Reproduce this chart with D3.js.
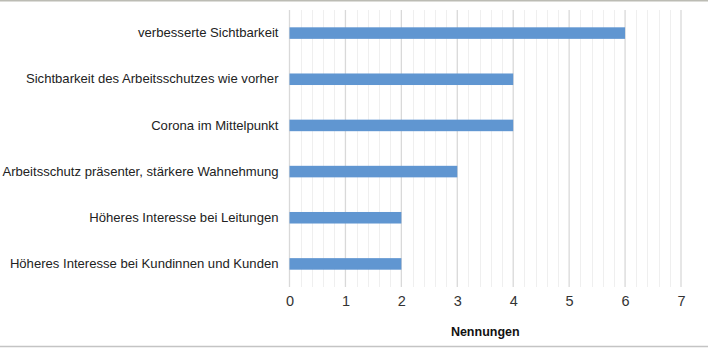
<!DOCTYPE html>
<html><head><meta charset="utf-8">
<script src="https://cdn.jsdelivr.net/npm/d3@7"></script>
<style>body{margin:0;background:#fff}svg{display:block}</style>
</head><body>
<svg id="c" width="708" height="348"></svg>
<script>
const categories = [
  "verbesserte Sichtbarkeit",
  "Sichtbarkeit des Arbeitsschutzes wie vorher",
  "Corona im Mittelpunkt",
  "Arbeitsschutz präsenter, stärkere Wahnehmung",
  "Höheres Interesse bei Leitungen",
  "Höheres Interesse bei Kundinnen und Kunden"
];
const values = [6, 4, 4, 3, 2, 2];
const tickValues = [0, 1, 2, 3, 4, 5, 6, 7];
const axisTitle = "Nennungen";

(function () {
const svg = d3.select("#c");
const W = 708;
const mLeft = 289.5, mRight = 681, mTop = 10, mBottom = 287;
const font = "'Liberation Sans', Arial, sans-serif";

svg.append("line").attr("x1",0).attr("x2",W).attr("y1",0.75).attr("y2",0.75)
  .attr("stroke","#bcbcb4").attr("stroke-width",1.5);
svg.append("line").attr("x1",0).attr("x2",W).attr("y1",346.5).attr("y2",346.5)
  .attr("stroke","#c4c4c4").attr("stroke-width",1.5);

const x = d3.scaleLinear().domain([0, 7]).range([mLeft, mRight]);
const y = d3.scaleBand().domain(categories).range([mTop, mBottom]).paddingInner(0.75).paddingOuter(0.375);

const minor = d3.range(0, 7.001, 0.2).filter(v => Math.abs(v - Math.round(v)) > 1e-6);
svg.append("g").selectAll("line").data(minor).join("line")
  .attr("x1", d => Math.round(x(d)) + 0.5).attr("x2", d => Math.round(x(d)) + 0.5)
  .attr("y1", mTop).attr("y2", mBottom)
  .attr("stroke", "#efefef").attr("stroke-width", 1);
svg.append("g").selectAll("line").data(tickValues).join("line")
  .attr("x1", d => x(d)).attr("x2", d => x(d))
  .attr("y1", mTop).attr("y2", mBottom)
  .attr("stroke", "#d9d9d9").attr("stroke-width", 1.3);

svg.append("g").selectAll("rect").data(values).join("rect")
  .attr("x", x(0)).attr("y", (d,i) => y(categories[i]))
  .attr("width", d => x(d) - x(0)).attr("height", y.bandwidth())
  .attr("fill", "#6096d1");

const xAxis = d3.axisBottom(x).tickValues(tickValues).tickSize(0).tickPadding(0).tickFormat(d3.format("d"));
const gx = svg.append("g").attr("transform", `translate(0,${mBottom})`).call(xAxis);
gx.select(".domain").remove();
gx.selectAll("text").attr("font-family", font).attr("font-size", 14.5).attr("fill", "#333")
  .attr("dy", null).attr("y", 18.5);

const yAxis = d3.axisLeft(y).tickSize(0).tickPadding(11);
const gy = svg.append("g").attr("transform", `translate(${mLeft},0)`).call(yAxis);
gy.select(".domain").remove();
gy.selectAll("text").attr("font-family", font).attr("font-size", 13.1).attr("fill", "#222");

svg.append("text").attr("x", (mLeft + mRight) / 2).attr("y", 336)
  .attr("text-anchor", "middle").attr("font-family", font).attr("font-size", 12.5)
  .attr("font-weight", "bold").attr("fill", "#111").text(axisTitle);
})();
</script>
</body></html>
